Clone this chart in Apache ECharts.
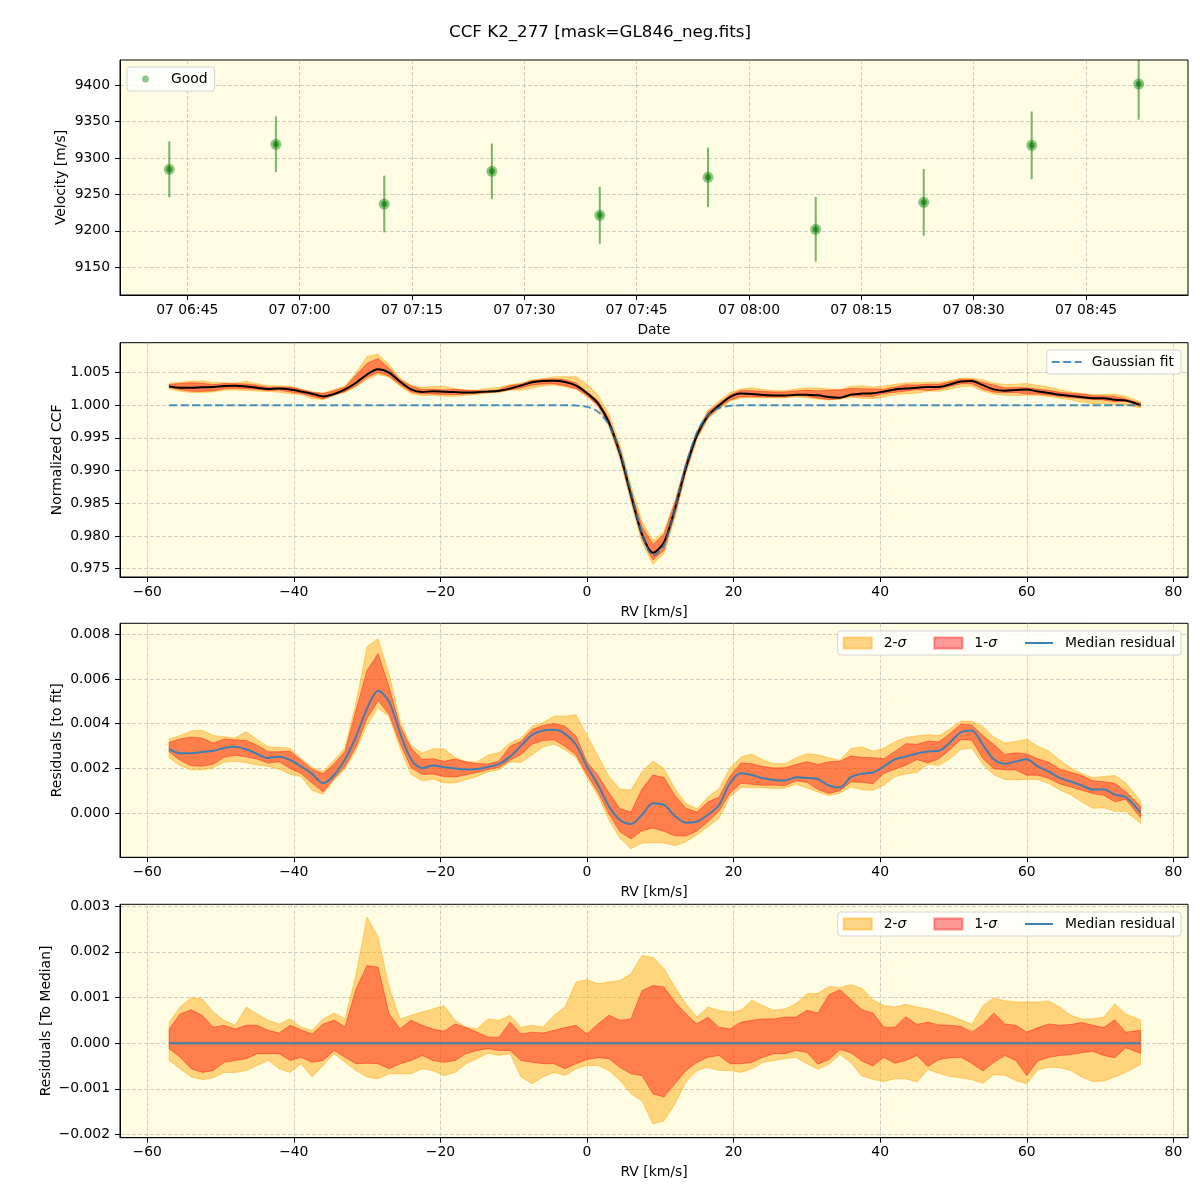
<!DOCTYPE html>
<html><head><meta charset="utf-8">
<script src="https://cdn.jsdelivr.net/npm/echarts@6/dist/echarts.min.js"></script>
<style>html,body{margin:0;padding:0;background:#fff}#c{width:1200px;height:1200px}</style>
</head><body><div id="c"></div>
<script>
// ---------- data ----------
const obsTimes = ['06:42:36','06:56:50','07:11:18','07:25:40','07:40:05','07:54:32','08:08:55','08:23:20','08:37:45','08:52:02'];
const velocity = [9284.4, 9318.6, 9236.8, 9281.6, 9221.3, 9273.4, 9202.1, 9239.1, 9317.3, 9401.4];
const velocityErr = [38.2, 38.2, 38.9, 38.2, 39.1, 40.9, 44.4, 45.7, 46.4, 48.9];
const dateTicks = ['06:45','07:00','07:15','07:30','07:45','08:00','08:15','08:30','08:45'];
const velTicks = [9150, 9200, 9250, 9300, 9350, 9400];

const rv = [-57,-55.5,-54,-52.5,-51,-49.5,-48,-46.5,-45,-43.5,-42,-40.5,-39,-37.5,-36,-34.5,-33,-31.5,-30,-28.5,
  -27,-25.5,-24,-22.5,-21,-19.5,-18,-16.5,-15,-13.5,-12,-10.5,-9,-7.5,-6,-4.5,-3,-1.5,0,1.5,
  3,4.5,6,7.5,9,10.5,12,13.5,15,16.5,18,19.5,21,22.5,24,25.5,27,28.5,30,31.5,
  33,34.5,36,37.5,39,40.5,42,43.5,45,46.5,48,49.5,51,52.5,54,55.5,57,58.5,60,61.5,
  63,64.5,66,67.5,69,70.5,72,73.5,75.5];

const gaussFit = [1,1,1,1,1,1,1,1,1,1,1,1,1,1,1,1,1,1,1,1,
  1,1,1,1,1,1,1,1,1,1,1,1,1,1,1,1,0.99999,0.99994,0.99974,0.99900,
  0.99701,0.99293,0.98675,0.98037,0.97699,0.97865,0.98432,0.99089,0.99581,0.99848,0.99956,0.99990,0.99998,1,1,1,1,1,1,1,
  1,1,1,1,1,1,1,1,1,1,1,1,1,1,1,1,1,1,1,1,
  1,1,1,1,1,1,1,1,1];

const medianResidual = [0.00286,0.00268,0.00268,0.00274,0.00279,0.00292,0.00297,0.00286,0.00265,0.00247,
  0.00253,0.00238,0.00209,0.00176,0.00134,0.00171,0.00241,0.00343,0.00469,0.00548,
  0.00499,0.00358,0.00241,0.00201,0.00213,0.00206,0.00200,0.00195,0.00198,0.00207,
  0.00221,0.00253,0.00301,0.00350,0.00370,0.00373,0.00355,0.00306,0.00209,0.00127,
  0.00030,-0.00030,-0.00048,-0.00007,0.00045,0.00037,-0.00012,-0.00042,-0.00037,-0.00007,
  0.00037,0.00134,0.00179,0.00171,0.00156,0.00149,0.00146,0.00161,0.00158,0.00152,
  0.00124,0.00115,0.00161,0.00177,0.00182,0.00209,0.00241,0.00253,0.00267,0.00276,
  0.00279,0.00316,0.00361,0.00370,0.00306,0.00241,0.00221,0.00231,0.00241,0.00209,
  0.00186,0.00158,0.00142,0.00124,0.00106,0.00107,0.00083,0.00072,0.00003];

// spread of the residuals around their median (bottom panel)
const sigma2Upper = [0.00046,0.00079,0.00100,0.00097,0.00068,0.00050,0.00039,0.00079,0.00064,0.00050,
  0.00042,0.00053,0.00035,0.00028,0.00053,0.00066,0.00053,0.00152,0.00276,0.00232,
  0.00123,0.00053,0.00061,0.00068,0.00075,0.00082,0.00050,0.00035,0.00031,0.00053,
  0.00050,0.00061,0.00035,0.00039,0.00035,0.00061,0.00079,0.00134,0.00139,0.00130,
  0.00134,0.00137,0.00152,0.00192,0.00188,0.00163,0.00123,0.00086,0.00057,0.00079,
  0.00072,0.00068,0.00072,0.00094,0.00082,0.00072,0.00075,0.00086,0.00108,0.00109,
  0.00124,0.00122,0.00128,0.00120,0.00095,0.00082,0.00079,0.00085,0.00079,0.00075,
  0.00068,0.00061,0.00051,0.00041,0.00082,0.00099,0.00093,0.00090,0.00090,0.00090,
  0.00092,0.00079,0.00061,0.00053,0.00053,0.00057,0.00086,0.00064,0.00051];
const sigma1Upper = [0.00031,0.00064,0.00073,0.00061,0.00035,0.00039,0.00031,0.00039,0.00039,0.00028,
  0.00022,0.00039,0.00029,0.00020,0.00042,0.00050,0.00036,0.00119,0.00170,0.00166,
  0.00064,0.00031,0.00050,0.00039,0.00031,0.00026,0.00042,0.00034,0.00024,0.00013,
  0.00013,0.00046,0.00020,0.00024,0.00022,0.00028,0.00034,0.00039,0.00020,0.00042,
  0.00061,0.00050,0.00053,0.00115,0.00126,0.00123,0.00090,0.00064,0.00042,0.00057,
  0.00035,0.00031,0.00046,0.00050,0.00053,0.00053,0.00057,0.00057,0.00072,0.00066,
  0.00106,0.00117,0.00095,0.00073,0.00066,0.00035,0.00035,0.00058,0.00041,0.00046,
  0.00040,0.00039,0.00037,0.00024,0.00041,0.00066,0.00042,0.00039,0.00024,0.00034,
  0.00042,0.00039,0.00041,0.00045,0.00039,0.00034,0.00051,0.00024,0.00028];
const sigma1Lower = [-0.00012,-0.00031,-0.00056,-0.00064,-0.00060,-0.00042,-0.00038,-0.00034,-0.00023,-0.00023,
  -0.00023,-0.00038,-0.00031,-0.00042,-0.00038,-0.00016,-0.00031,-0.00045,-0.00044,-0.00045,
  -0.00056,-0.00045,-0.00038,-0.00027,-0.00038,-0.00042,-0.00038,-0.00023,-0.00016,-0.00012,
  -0.00016,-0.00016,-0.00038,-0.00042,-0.00045,-0.00045,-0.00056,-0.00045,-0.00036,-0.00032,
  -0.00034,-0.00053,-0.00067,-0.00071,-0.00111,-0.00118,-0.00089,-0.00060,-0.00042,-0.00031,
  -0.00027,-0.00045,-0.00045,-0.00042,-0.00031,-0.00023,-0.00023,-0.00016,-0.00020,-0.00046,
  -0.00036,-0.00014,-0.00021,-0.00039,-0.00050,-0.00031,-0.00044,-0.00038,-0.00027,-0.00051,
  -0.00036,-0.00032,-0.00031,-0.00044,-0.00061,-0.00042,-0.00027,-0.00038,-0.00071,-0.00039,
  -0.00031,-0.00027,-0.00025,-0.00021,-0.00018,-0.00027,-0.00032,-0.00010,-0.00022];
const sigma2Lower = [-0.00038,-0.00056,-0.00074,-0.00080,-0.00076,-0.00064,-0.00064,-0.00060,-0.00049,-0.00038,
  -0.00056,-0.00064,-0.00045,-0.00074,-0.00049,-0.00023,-0.00042,-0.00060,-0.00074,-0.00078,
  -0.00067,-0.00067,-0.00067,-0.00056,-0.00060,-0.00071,-0.00064,-0.00045,-0.00034,-0.00022,
  -0.00027,-0.00023,-0.00074,-0.00089,-0.00074,-0.00064,-0.00071,-0.00056,-0.00049,-0.00049,
  -0.00060,-0.00082,-0.00111,-0.00126,-0.00177,-0.00170,-0.00133,-0.00085,-0.00060,-0.00053,
  -0.00060,-0.00060,-0.00064,-0.00056,-0.00042,-0.00038,-0.00034,-0.00031,-0.00045,-0.00057,
  -0.00046,-0.00025,-0.00043,-0.00072,-0.00079,-0.00084,-0.00078,-0.00078,-0.00085,-0.00058,
  -0.00066,-0.00073,-0.00076,-0.00080,-0.00088,-0.00069,-0.00070,-0.00082,-0.00089,-0.00058,
  -0.00053,-0.00054,-0.00060,-0.00074,-0.00084,-0.00083,-0.00074,-0.00064,-0.00047];

const rvTicks = [-60, -40, -20, 0, 20, 40, 60, 80];
const ccfTicks = [0.975, 0.980, 0.985, 0.990, 0.995, 1.000, 1.005];
const resTicks = [0.000, 0.002, 0.004, 0.006, 0.008];
const medTicks = [-0.002, -0.001, 0.000, 0.001, 0.002, 0.003];

// ---------- derived tables ----------
const toMin = s => { const p = s.split(':').map(Number); return p[0] * 60 + p[1] + (p[2] || 0) / 60; };
const add = (a, b) => a.map((v, i) => v + b[i]);
const res2Hi = add(medianResidual, sigma2Upper), res1Hi = add(medianResidual, sigma1Upper);
const res1Lo = add(medianResidual, sigma1Lower), res2Lo = add(medianResidual, sigma2Lower);
const ccfMedian = add(gaussFit, medianResidual);
const ccf2Hi = add(gaussFit, res2Hi), ccf1Hi = add(gaussFit, res1Hi);
const ccf1Lo = add(gaussFit, res1Lo), ccf2Lo = add(gaussFit, res2Lo);
const medianToMedian = medianResidual.map(v => v - v);

// ---------- styling ----------
const FONT = 'DejaVu Sans';
const FS = 13.9;
const BG = '#FEFCE3';
const C2 = 'rgba(255,165,0,0.45)';
const C1 = 'rgba(255,0,0,0.4)';
const minus = s => s.replace('-', '\u2212');
const fmtFixed = d => v => minus(Math.abs(v) < 1e-12 ? (0).toFixed(d) : v.toFixed(d));
const pad2 = n => String(n).padStart(2, '0');
const fmtDate = v => { const m = Math.round(v); return '07 ' + pad2(Math.floor(m / 60)) + ':' + pad2(m % 60); };

const txt = { fontFamily: FONT, fontSize: FS, color: '#000' };
function axisBase(ticks, fmt, isX) {
  return {
    type: 'value',
    axisLine: { show: true, onZero: false, lineStyle: { color: '#000', width: 1 } },
    axisTick: { show: true, inside: false, length: 5, customValues: ticks, lineStyle: { color: '#000', width: 1 } },
    axisLabel: { customValues: ticks, formatter: fmt, margin: isX ? 8 : 10, fontFamily: FONT, fontSize: FS, color: '#000' },
    splitLine: { show: true, lineStyle: { color: 'rgba(176,176,176,0.6)', width: 1, type: [4, 2] } },
    nameLocation: 'middle',
    nameMoveOverlap: false,
    nameTextStyle: txt
  };
}
const dateTickVals = dateTicks.map(toMin);
const xAxes = [
  Object.assign(axisBase(dateTickVals, fmtDate, true), { gridIndex: 0, min: 396.02, max: 538.62, name: 'Date', nameGap: 28 }),
  Object.assign(axisBase(rvTicks, fmtFixed(0), true), { gridIndex: 1, min: -63.71, max: 81.99, name: 'RV [km/s]', nameGap: 28 }),
  Object.assign(axisBase(rvTicks, fmtFixed(0), true), { gridIndex: 2, min: -63.71, max: 81.99, name: 'RV [km/s]', nameGap: 28 }),
  Object.assign(axisBase(rvTicks, fmtFixed(0), true), { gridIndex: 3, min: -63.71, max: 81.99, name: 'RV [km/s]', nameGap: 28 })
];
const yAxes = [
  Object.assign(axisBase(velTicks, v => String(Math.round(v)), false), { gridIndex: 0, min: 9112, max: 9434.3, name: 'Velocity [m/s]', nameGap: 52 }),
  Object.assign(axisBase(ccfTicks, fmtFixed(3), false), { gridIndex: 1, min: 0.97373, max: 1.00955, name: 'Normalized CCF', nameGap: 56 }),
  Object.assign(axisBase(resTicks, fmtFixed(3), false), { gridIndex: 2, min: -0.00197, max: 0.00849, name: 'Residuals [to fit]', nameGap: 56 }),
  Object.assign(axisBase(medTicks, fmtFixed(3), false), { gridIndex: 3, min: -0.00207, max: 0.00304, name: 'Residuals [To Median]', nameGap: 67 })
];

function band(name, gi, lo, hi, color, z) {
  return {
    type: 'custom', name, xAxisIndex: gi, yAxisIndex: gi, clip: true, silent: true, z,
    itemStyle: { color: color, borderColor: color, borderWidth: 1 },
    data: rv.map((x, i) => [x, lo[i], hi[i]]),
    encode: { x: 0, y: [1, 2] },
    renderItem: function (params, api) {
      if (params.dataIndex !== 0) return null;
      const pts = [];
      for (let i = 0; i < rv.length; i++) pts.push(api.coord([rv[i], hi[i]]));
      for (let i = rv.length - 1; i >= 0; i--) pts.push(api.coord([rv[i], lo[i]]));
      return { type: 'polygon', shape: { points: pts }, style: { fill: color, stroke: color, lineWidth: 1 } };
    }
  };
}
function line(name, gi, ys, color, width, dash, z, smooth) {
  return {
    type: 'line', name, xAxisIndex: gi, yAxisIndex: gi, symbol: 'none', silent: true, z,
    data: rv.map((x, i) => [x, ys[i]]),
    smooth: smooth || false,
    lineStyle: { color, width, type: dash || 'solid' },
    itemStyle: { color },
    clip: true, animation: false
  };
}

const obs = obsTimes.map((t, i) => [toMin(t), velocity[i], velocityErr[i]]);
const series = [
  {
    type: 'custom', name: 'errbar', xAxisIndex: 0, yAxisIndex: 0, clip: true, silent: true, z: 2,
    data: obs, encode: { x: 0, y: 1 },
    renderItem: function (params, api) {
      const x = api.value(0), v = api.value(1), e = api.value(2);
      const a = api.coord([x, v - e]), b = api.coord([x, v + e]);
      return { type: 'line', shape: { x1: a[0], y1: a[1], x2: b[0], y2: b[1] }, style: { stroke: 'rgba(0,128,0,0.55)', lineWidth: 2 } };
    }
  },
  { type: 'scatter', name: 'Good', xAxisIndex: 0, yAxisIndex: 0, data: obs.map(d => [d[0], d[1]]), symbolSize: 11, itemStyle: { color: 'rgba(0,128,0,0.55)' }, z: 3, silent: true },
  { type: 'scatter', name: 'core', xAxisIndex: 0, yAxisIndex: 0, data: obs.map(d => [d[0], d[1]]), symbolSize: 6, itemStyle: { color: 'rgba(0,115,0,0.7)' }, z: 4, silent: true },

  band('ccf2', 1, ccf2Lo, ccf2Hi, C2, 2),
  band('ccf1', 1, ccf1Lo, ccf1Hi, C1, 3),
  line('CCF median', 1, ccfMedian, '#000', 2, null, 4, 0.3),
  line('Gaussian fit', 1, gaussFit, 'rgba(31,119,180,0.8)', 2, [8, 3.5], 5, 0.3),

  band('2-σ', 2, res2Lo, res2Hi, C2, 2),
  band('1-σ', 2, res1Lo, res1Hi, C1, 3),
  line('Median residual', 2, medianResidual, '#3f7fb3', 2, null, 4, 0.3),

  band('2-σ', 3, sigma2Lower, sigma2Upper, C2, 2),
  band('1-σ', 3, sigma1Lower, sigma1Upper, C1, 3),
  line('Median residual', 3, medianToMedian, '#3f7fb3', 2, null, 4)
];

const hiddenMark = { color: 'rgba(0,0,0,0)', borderColor: 'rgba(0,0,0,0)', borderWidth: 0, opacity: 0 };
const legendBox = { backgroundColor: 'rgba(255,255,255,0.8)', borderColor: '#d4d4d4', borderWidth: 1, borderRadius: 3, selectedMode: false, orient: 'horizontal' };
const richFmt = name => name.indexOf('σ') >= 0 ? '{t|' + name.replace('σ', '}{i|σ}') : '{t|' + name + '}';
const richTxt = { fontFamily: FONT, fontSize: FS, color: '#000', padding: [0, 0, 0, 7],
  rich: { t: { fontFamily: FONT, fontSize: FS, color: '#000' }, i: { fontFamily: FONT, fontSize: FS, fontStyle: 'italic', color: '#000' } } };
const resLegendData = [{ name: '2-σ', icon: 'rect' }, { name: '1-σ', icon: 'rect' }, { name: 'Median residual', itemStyle: hiddenMark }];
const legends = [
  Object.assign({}, legendBox, { data: ['Good'], left: 127, top: 67, padding: [5, 7, 5, 15], itemWidth: 7, itemHeight: 7, icon: 'circle',
    textStyle: Object.assign({}, txt, { padding: [0, 0, 0, 17] }) }),
  Object.assign({}, legendBox, { data: [{ name: 'Gaussian fit', itemStyle: hiddenMark }], right: 19, top: 350, padding: [5, 7, 5, 4], itemWidth: 30, itemHeight: 12,
    textStyle: Object.assign({}, txt, { padding: [0, 0, 0, 5] }) }),
  Object.assign({}, legendBox, { data: resLegendData, right: 19, top: 631,
    padding: [5, 6, 5, 5], itemWidth: 28, itemHeight: 11, itemGap: 27, formatter: richFmt, textStyle: richTxt }),
  Object.assign({}, legendBox, { data: resLegendData, right: 19, top: 912,
    padding: [5, 6, 5, 5], itemWidth: 28, itemHeight: 11, itemGap: 27, formatter: richFmt, textStyle: richTxt })
];

const gridBase = { left: 120, right: 12, show: true, backgroundColor: BG, borderColor: '#000', borderWidth: 1, containLabel: false };
const option = {
  animation: false,
  backgroundColor: '#fff',
  title: { text: 'CCF K2_277 [mask=GL846_neg.fits]', left: 'center', top: 24, padding: 0,
    textStyle: { fontFamily: FONT, fontSize: 16.7, fontWeight: 'normal', color: '#000' } },
  grid: [
    Object.assign({}, gridBase, { top: 60, height: 235 }),
    Object.assign({}, gridBase, { top: 342.7, height: 234.3 }),
    Object.assign({}, gridBase, { top: 623.3, height: 234 }),
    Object.assign({}, gridBase, { top: 904.3, height: 233.4 })
  ],
  xAxis: xAxes,
  yAxis: yAxes,
  legend: legends,
  series: series
};
const chart = echarts.init(document.getElementById('c'), null, { renderer: 'canvas' });
chart.setOption(option);
</script>
</body></html>
